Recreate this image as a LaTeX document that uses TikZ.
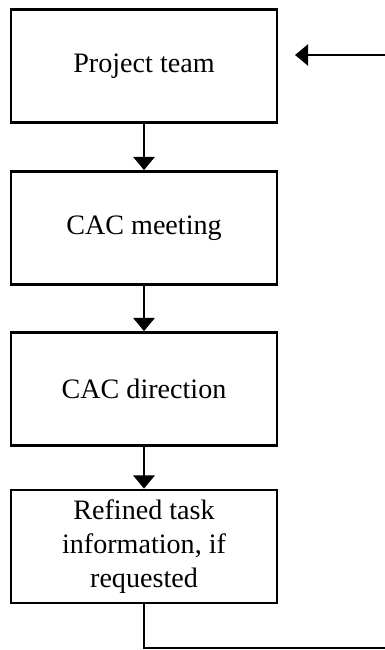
\documentclass[tikz,border=0pt]{standalone}
\usepackage{fontspec}
\setmainfont{Liberation Serif}
\usetikzlibrary{arrows.meta}

\tikzset{
  stage/.style={draw, line width=1.6pt, minimum width=5.32cm, minimum height=2.26cm,
    inner sep=0pt, align=center, font=\fontsize{16}{19.5}\selectfont},
  flow/.style={line width=1.6pt, -{Triangle[width=12pt,length=7.5pt]}}
}

\begin{document}
\begin{tikzpicture}[x=0.02cm, y=-0.02cm]
	\clip (0,0) rectangle (385,650);
	\useasboundingbox (0,0) rectangle (385,650);

	\node (team) [stage] at (144,66) {Project team};
	\node (meet) [stage] at (144,228) {CAC meeting};
	\node (dir) [stage] at (144,389) {CAC direction};
	\node (info) [stage] at (144,546.5) {Refined task\\information, if\\requested};

	\coordinate (fb1) at (392,648);
	\coordinate (fb2) at (392,55);
	\coordinate (ret) at (295,55);

	\draw [flow] (team) to (meet);
	\draw [flow] (meet) to (dir);
	\draw [flow] (dir) to (info);
	\draw [flow] (info.south) |- (fb1) -- (fb2) -- (ret);

\end{tikzpicture}
\end{document}
